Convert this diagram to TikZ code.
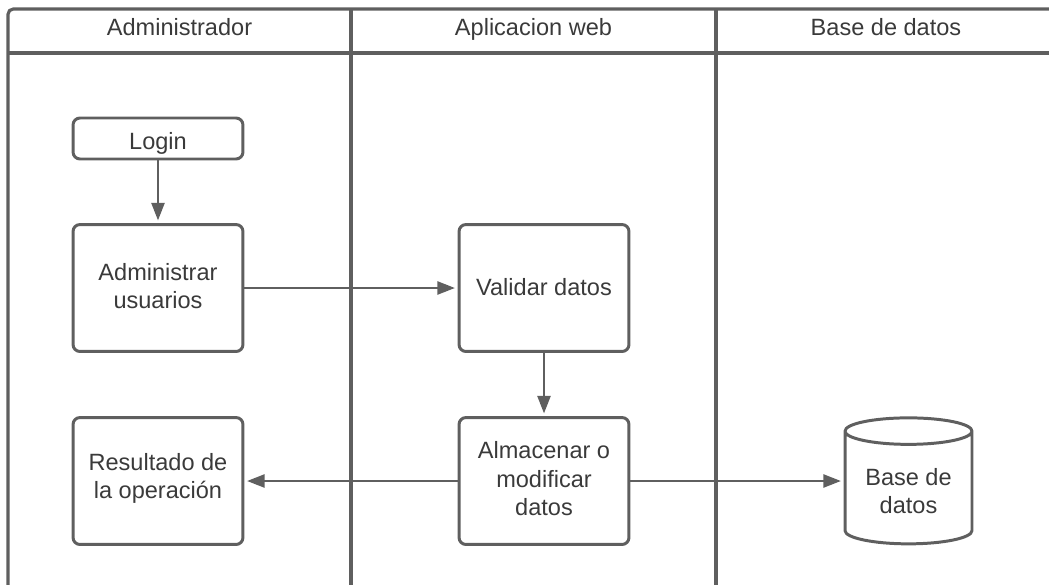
\documentclass[tikz,border=0pt]{standalone}
\usepackage{fontspec}
\setmainfont{Liberation Sans}
\usepackage{tikz}
\usetikzlibrary{arrows.meta,shapes.geometric}
\definecolor{edge}{RGB}{95,95,95}
\definecolor{ink}{RGB}{58,58,58}

\begin{document}
\begin{tikzpicture}[
        x=0.02cm, y=-0.02cm,
        box/.style={rectangle, draw=edge, line width=1.7pt, minimum width=3.4cm, minimum height=2.54cm,
                    align=center, rounded corners=4pt, text=ink, font=\fontsize{13.4}{16}\selectfont},
        store/.style={cylinder, shape border rotate=90, aspect=0.27, draw=edge, line width=1.7pt, minimum width=2.54cm,
                    minimum height=2.52cm, align=center, text=ink, font=\fontsize{13.4}{16}\selectfont},
        head/.style={text=ink, text height=10pt, text depth=3pt, font=\fontsize{13.4}{16}\selectfont},
        lane/.style={draw=edge, line width=1.8pt},
        link/.style={draw=edge, line width=1.2pt, shorten >=1.5pt, -{Triangle[length=10pt,width=7.5pt]}}
      ]
        \useasboundingbox (0, 0) rectangle (1049, 585);

        % swimlanes
        \draw[lane, rounded corners=3pt] (8, 585) -- (8, 9) -- (1049, 9);
        \draw[lane] (8, 53) -- (1049, 53);
        \foreach \x in {351, 716} {
          \draw[lane] (\x, 9) -- (\x, 585);
        }

        \node[head] (admin) at (179.5, 29.8) {Administrador};
        \node[head] (webapp) at (533.5, 29.8) {Aplicacion web};
        \node[head] (database) at (886, 29.8) {Base de datos};

        \node[box, minimum height=0.82cm, text height=12pt, text depth=0pt] (login) at (158, 138.5) {Login};
        \node[box, text depth=2.8pt] (manage) at (158, 288) {Administrar\\usuarios};
        \node[box, text height=8pt, text depth=0pt] (validate) at (544, 288) {Validar datos};
        \node[box, text depth=2.8pt] (save) at (544, 481) {Almacenar o\\modificar\\datos};
        \node[box, text depth=6.2pt] (result) at (158, 481) {Resultado de\\la operación};
        \node[store] (db) at (908.5, 491) {Base de\\datos};

        \draw[link] (login) -- (manage);
        \draw[link] (manage) -- (validate);
        \draw[link] (validate) -- (save);
        \draw[link] (save) -- (result);
        \draw[link] (save) -- (db.west |- save);
      \end{tikzpicture}
\end{document}
